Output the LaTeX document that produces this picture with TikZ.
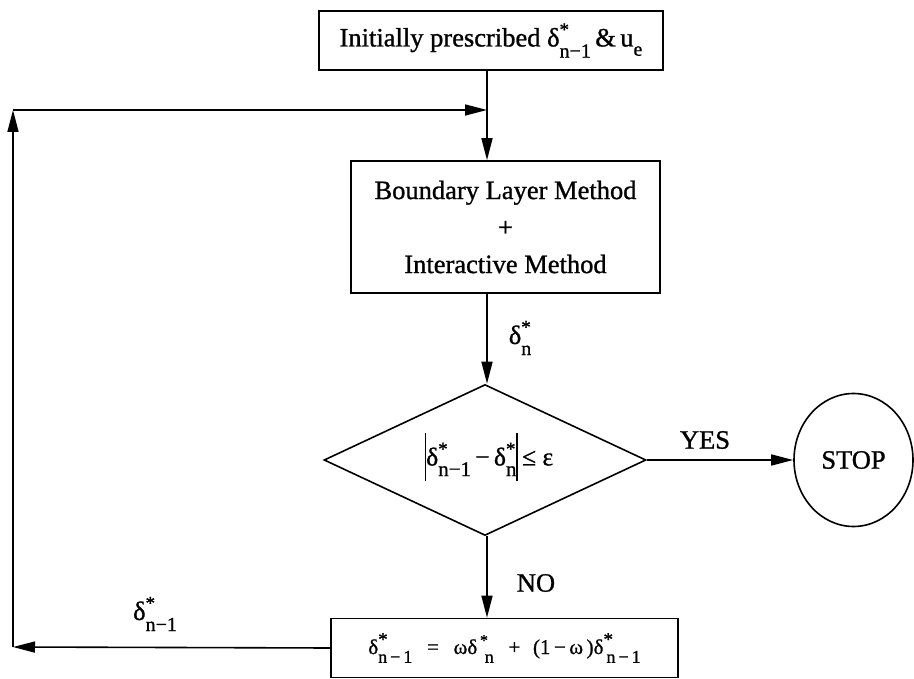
\documentclass[tikz,border=0pt]{standalone}
\usepackage{fontspec}
\setmainfont[FakeBold=1]{Liberation Serif}
\usetikzlibrary{arrows.meta,shapes.geometric}

% delta with a starred superscript and a subscript (optional size of the subscript)
\newcommand{\dsub}[2][20]{δ\rlap{\raisebox{0.40em}{\fontsize{19}{19}\selectfont *}}\raisebox{-0.42em}{\fontsize{#1}{#1}\selectfont #2}}
% tall bar of the absolute value
\newcommand{\absbar}{\raisebox{-0.62em}{\rule{1.4pt}{1.9em}}}

\begin{document}
\begin{tikzpicture}[x=1pt, y=-1pt, line width=1.6pt,
  every node/.style={font=\fontsize{26.5}{32}\selectfont, inner sep=0pt},
  procbox/.style={draw, rectangle, align=center},
  flow/.style={-{Triangle[length=22pt, width=11pt]}},
  tag/.style={font=\fontsize{26.5}{32}\selectfont}]
\useasboundingbox (0,0) rectangle (914,679);

% process boxes
\node[procbox, minimum width=344pt, minimum height=59pt] (init) at (491,40.5)
  {Initially prescribed \dsub{n−1}\,\&\,u\raisebox{-0.35em}{\fontsize{20}{20}\selectfont e}};
\node[procbox, minimum width=309pt, minimum height=132pt] (blm) at (505.5,227)
  {Boundary Layer Method\\[5pt] +\\[5pt] Interactive Method};
\node[draw, diamond, minimum width=322pt, minimum height=151pt] (test) at (485,460) {};
\node[font=\fontsize{25.5}{30}\selectfont] (crit) at (489,457)
  {\absbar\dsub[21]{n−1}\,−\,\dsub[21]{n}\absbar\,≤ ε};
\node[draw, ellipse, minimum width=119pt, minimum height=133pt] (stop) at (853.5,460) {STOP};
\node[procbox, minimum width=347pt, minimum height=59pt,
      font=\fontsize{21}{25}\selectfont] (upd) at (504.5,648)
  {\dsub[18]{n\,−\,1}\hspace{0.7em}=\hspace{0.7em}ωδ\rlap{\raisebox{0.40em}{\fontsize{16}{16}\selectfont\,*}}\raisebox{-0.42em}{\fontsize{18}{18}\selectfont\ \,n}\hspace{0.7em}+\hspace{0.6em}(1\,−\,ω\,)\dsub[18]{\,n\,−\,1}};

% loop-back corners and junction
\coordinate (bl) at (13,647);
\coordinate (tl) at (13,110);
\coordinate (j) at (487,110);

% connectors
\draw[flow] (init.south -| j) -- (blm.north -| j);
\draw[flow] (blm.south -| j) -- (test.north -| j);
\draw[flow] (test.east) -- (stop.west);
\draw[flow] (test.south -| j) -- (upd.north -| j);
\draw[flow] (upd.west) -- (bl);
\draw[flow] (bl) -- (tl);
\draw[flow] (tl) -- (j);

% connector labels
\node[tag, anchor=west] (ln) at (508,338) {\dsub{n}};
\node[tag] (lyes) at (705,440) {YES};
\node[tag] (lno) at (536,583) {NO};
\node[tag] (lprev) at (155,614) {\dsub{n−1}};
\end{tikzpicture}
\end{document}
